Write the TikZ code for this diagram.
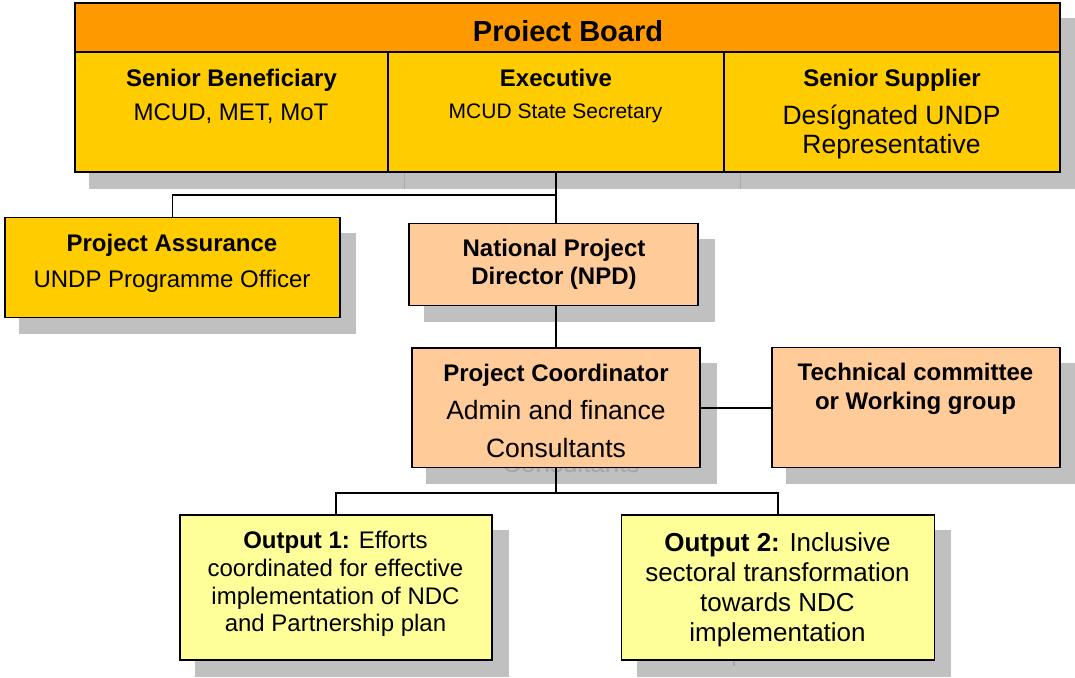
\documentclass[tikz,border=0pt]{standalone}
\usepackage{fontspec}
\setmainfont{Liberation Sans}
\usetikzlibrary{backgrounds}
\definecolor{boardorange}{HTML}{FF9900}
\definecolor{boardyellow}{HTML}{FFCC00}
\definecolor{peach}{HTML}{FFCC99}
\definecolor{lightyellow}{HTML}{FFFF99}
\definecolor{shadowgray}{HTML}{C0C0C0}
\definecolor{shadowline}{HTML}{A8A8A8}
\definecolor{ghostgray}{HTML}{A6A6A6}
\newcommand\fsz[1]{\fontsize{#1}{#1}\selectfont}
\begin{document}
\begin{tikzpicture}[x=1pt,y=-1pt,
  cell/.style={draw=black,line width=1.8pt,inner sep=0pt},
  conn/.style={draw=black,line width=1.6pt},
  shade/.style={fill=shadowgray},
  lbl/.style={anchor=base,inner sep=0pt},
  hb/.style={lbl,font=\bfseries\fsz{24}},
  tx/.style={lbl,font=\fsz{24}}]
\useasboundingbox (0,0) rectangle (1075,677);

% ---- boxes ----
\node[cell,fill=boardorange,minimum width=985pt,minimum height=49pt] (title) at (567.5,27.5) {};
\node[cell,fill=boardyellow,minimum width=313pt,minimum height=120pt] (SB) at (231.5,112) {};
\node[cell,fill=boardyellow,minimum width=336pt,minimum height=120pt] (EX) at (556,112) {};
\node[cell,fill=boardyellow,minimum width=336pt,minimum height=120pt] (SS) at (892,112) {};
\node[cell,fill=boardyellow,minimum width=335pt,minimum height=100pt] (PA) at (172.5,267.5) {};
\node[cell,fill=peach,minimum width=289pt,minimum height=82pt] (NPD) at (553.5,264.5) {};
\node[cell,fill=peach,minimum width=288pt,minimum height=119.5pt] (PC) at (555.8,407.8) {};
\node[cell,fill=peach,minimum width=288pt,minimum height=120pt] (TC) at (915.9,407.4) {};
\node[cell,fill=lightyellow,minimum width=312pt,minimum height=145pt] (O1) at (336,587.5) {};
\node[cell,fill=lightyellow,minimum width=313pt,minimum height=145pt] (O2) at (778,587.5) {};

% ---- shadows ----
\begin{scope}[on background layer]
  \fill[shade] ([shift={(15,16)}]title.north west) rectangle ([shift={(15,16)}]SS.south east);
  \draw[shadowline,line width=1pt] ([shift={(16,0)}]SB.south east) -- ([shift={(16,16)}]SB.south east);
  \draw[shadowline,line width=1pt] ([shift={(16,0)}]EX.south east) -- ([shift={(16,16)}]EX.south east);
  \fill[shade] ([shift={(15,16)}]PA.north west) rectangle ([shift={(15,16)}]PA.south east);
  \fill[shade] ([shift={(16,16)}]NPD.north west) rectangle ([shift={(16,16)}]NPD.south east);
  \fill[shade] ([shift={(15,16)}]PC.north west) rectangle ([shift={(16,16)}]PC.south east);
  \fill[shade] ([shift={(15,16)}]TC.north west) rectangle ([shift={(15,16)}]TC.south east);
  \fill[shade] ([shift={(16,16)}]O1.north west) rectangle ([shift={(16,16)}]O1.south east);
  \fill[shade] ([shift={(16,16)}]O2.north west) rectangle ([shift={(16,16)}]O2.south east);
  \node[lbl,font=\fsz{26},text=ghostgray] (ghost) at (571,472) {Consultants};
  \draw[shadowline,line width=1.2pt] (734,660) -- (734,666);
\end{scope}

% ---- connectors ----
\draw[conn] (EX.south) -- ++(0,22) coordinate (split) -| (PA.north);
\draw[conn] (split) -- (EX.south |- NPD.north);
\draw[conn] (PC.north) -- (PC.north |- NPD.south);
\draw[conn] (PC.east) -- (PC.east -| TC.west);
\draw[conn] (PC.south) -- ++(0,24.5) coordinate (split2) -| (O1.north);
\draw[conn] (split2) -| (O2.north);

% ---- texts ----
\node[lbl,font=\bfseries\fsz{29}] (tTitle) at (568,41.5) {Proiect Board};
\node[hb] (tSB1) at (231.5,86) {Senior Beneficiary};
\node[tx] (tSB2) at (231,120) {MCUD, MET, MoT};
\node[hb] (tEX1) at (556,86) {Executive};
\node[lbl,font=\fsz{21}] (tEX2) at (555.5,118) {MCUD State Secretary};
\node[hb] (tSS1) at (892,86) {Senior Supplier};
\node[lbl,font=\fsz{26.5}] (tSS2) at (891.5,124) {Desígnated UNDP};
\node[lbl,font=\fsz{26.5}] (tSS3) at (891.5,153) {Representative};
\node[hb] (tPA1) at (172,251) {Project Assurance};
\node[tx] (tPA2) at (172,287) {UNDP Programme Officer};
\node[hb] (tNPD1) at (554,256.7) {National Project};
\node[hb] (tNPD2) at (554,284.3) {Director (NPD)};
\node[hb] (tPC1) at (556,381) {Project Coordinator};
\node[lbl,font=\fsz{26.5}] (tPC2) at (556,419) {Admin and finance};
\node[lbl,font=\fsz{26.5}] (tPC3) at (556,457) {Consultants};
\node[hb] (tTC1) at (915.5,380.7) {Technical committee};
\node[hb] (tTC2) at (915.5,409) {or Working group};
\node[tx] (tO11) at (335.5,548) {\textbf{Output 1:} Efforts};
\node[tx] (tO12) at (335.5,576) {coordinated for effective};
\node[tx] (tO13) at (335.5,604) {implementation of NDC};
\node[tx] (tO14) at (335.5,631) {and Partnership plan};
\node[lbl,font=\fsz{26}] (tO21) at (777.5,551) {\textbf{Output 2:} Inclusive};
\node[lbl,font=\fsz{26}] (tO22) at (777.5,581.7) {sectoral transformation};
\node[lbl,font=\fsz{26}] (tO23) at (777.5,611.7) {towards NDC};
\node[lbl,font=\fsz{26}] (tO24) at (777.5,641.7) {implementation};
\end{tikzpicture}
\end{document}
